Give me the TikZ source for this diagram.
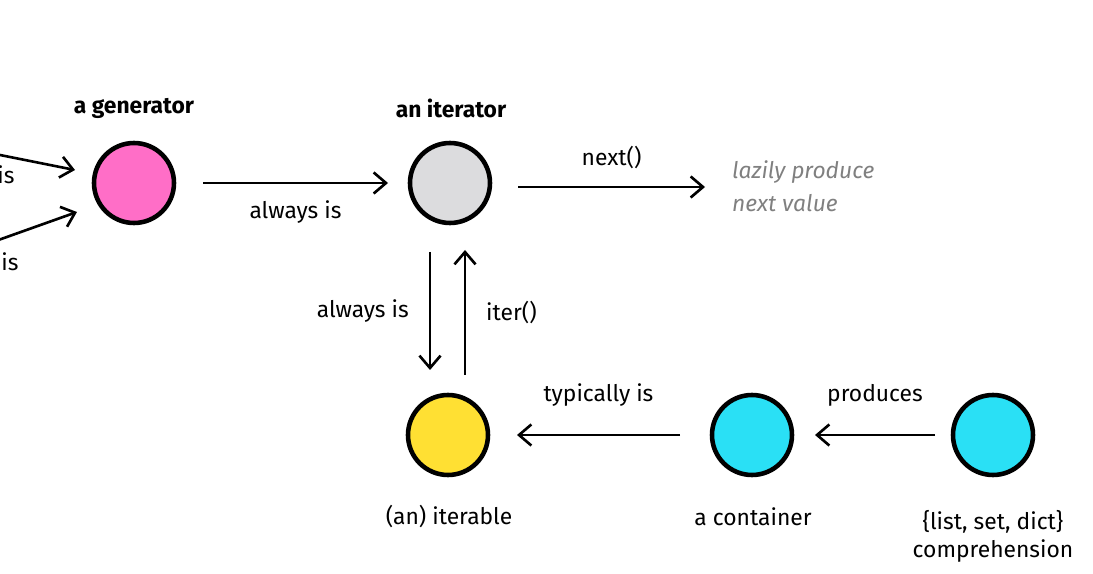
\documentclass[tikz,border=0pt]{standalone}
\usepackage{fontspec}
\setmainfont{Fira Sans}
\usetikzlibrary{arrows.meta}
\begin{document}
\begin{tikzpicture}[x=0.02cm,y=-0.02cm,
  dot/.style={circle,draw=black,line width=2.6pt,minimum size=1.6cm,inner sep=0},
  arr/.style={-{Straight Barb[length=7pt,width=12pt,line width=1.5pt]},line width=1.5pt},
  lab/.style={font=\fontsize{13}{16}\selectfont},
  ttl/.style={font=\fontsize{13}{16}\selectfont\bfseries}]
\useasboundingbox (0,0) rectangle (1093,574);
\clip (0,0) rectangle (1093,574);
\definecolor{cpink}{HTML}{FF6EC7}
\definecolor{cgray}{HTML}{DCDCDE}
\definecolor{cyel}{HTML}{FFE033}
\definecolor{ccyan}{HTML}{2AE0F5}
\node[dot,fill=cpink] (gen) at (134,183) {};
\node[dot,fill=cgray] (it) at (450,183) {};
\node[dot,fill=cyel] (itb) at (448,435) {};
\node[dot,fill=ccyan] (con) at (752,435) {};
\node[dot,fill=ccyan] (comp) at (993,435) {};
\node[ttl] (tgen) at (134,108) {a generator};
\node[ttl] (tit) at (451,108) {an iterator};
\node[lab] (litb) at (449,517) {(an) iterable};
\node[lab] (lcon) at (753,517) {a container};
\node[lab,align=center] (lcomp) at (993,536) {\{list, set, dict\}\\comprehension};
\coordinate (s1) at (-10,153);
\coordinate (e1) at (75,170);
\coordinate (s2) at (-10,243);
\coordinate (e2) at (77,212);
\coordinate (a1) at (203,183); \coordinate (b1) at (388,183);
\coordinate (a2) at (518,187); \coordinate (b2) at (705,187);
\coordinate (a3) at (430,252); \coordinate (b3) at (430,370);
\coordinate (a4) at (465,375); \coordinate (b4) at (465,250);
\coordinate (a5) at (680,435); \coordinate (b5) at (517,435);
\coordinate (a6) at (935,435); \coordinate (b6) at (815,435);
\draw[arr] (s1) -- (e1);
\draw[arr] (s2) -- (e2);
\node[lab] (li1) at (6,175) {is};
\node[lab] (li2) at (10,262) {is};
\draw[arr] (a1) -- (b1) node[lab,midway,below=6pt] {always is};
\draw[arr] (a2) -- (b2) node[lab,midway,above=6pt] {next()};
\node[lab,anchor=west,text=gray,font=\fontsize{13}{19}\selectfont\itshape,align=left] (lazy) at (726,186) {lazily produce\\next value};
\draw[arr] (a3) -- (b3) node[lab,midway,left=8pt] {always is};
\draw[arr] (a4) -- (b4) node[lab,midway,right=8pt] {iter()};
\draw[arr] (a5) -- (b5) node[lab,midway,above=12pt] {typically is};
\draw[arr] (a6) -- (b6) node[lab,midway,above=12pt] {produces};
\end{tikzpicture}
\end{document}
